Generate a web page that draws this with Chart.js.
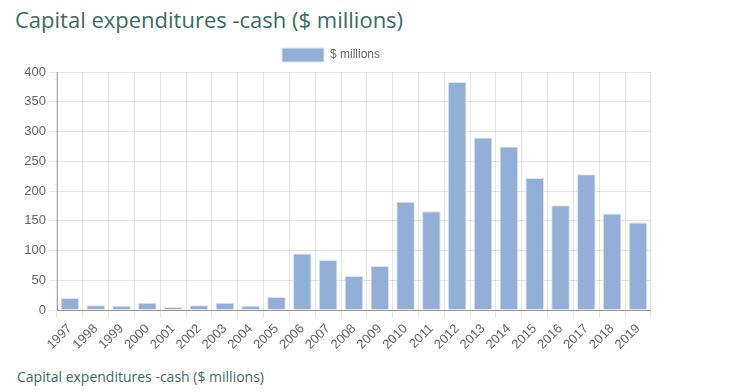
<!DOCTYPE html>
<html>
<head>
<meta charset="utf-8">
<script src="https://cdn.jsdelivr.net/npm/chart.js@4"></script>
<style>
  body { margin: 0; background: #fff; width: 738px; height: 392px; overflow: hidden; font-family: "Open Sans", sans-serif; }
  h2 { position: absolute; left: 15px; top: 4px; margin: 0; font-weight: 400; font-size: 22px; color: #3b6b60; }
  .box { position: absolute; left: 10px; top: 38px; width: 642px; height: 312px; }
  p { position: absolute; left: 17px; top: 367px; margin: 0; font-size: 14px; color: #3b6b60; }
</style>
</head>
<body>
<h2>Capital expenditures -cash ($ millions)</h2>
<div class="box"><canvas id="c"></canvas></div>
<p>Capital expenditures -cash ($ millions)</p>
<script>
// данные с картинки
const years = ['1997','1998','1999','2000','2001','2002','2003','2004','2005','2006','2007','2008',
  '2009','2010','2011','2012','2013','2014','2015','2016','2017','2018','2019'];
const capex = [20, 8, 7, 12, 5, 8, 12, 7, 22, 95, 84, 57, 74, 182, 166, 383, 290, 275, 222, 176, 228, 162, 147];
const yTicks = [0, 50, 100, 150, 200, 250, 300, 350, 400];

Chart.defaults.font.family = '"Liberation Sans", Arial, sans-serif';
Chart.defaults.font.size = 12;
Chart.defaults.color = '#666';

new Chart(document.getElementById('c'), {
  type: 'bar',
  data: {
    labels: years,
    datasets: [{
      label: '$ millions',
      data: capex,
      backgroundColor: '#93afd8',
      borderColor: '#dbe5f3',
      borderWidth: 1
    }]
  },
  options: {
    responsive: true,
    maintainAspectRatio: false,
    animation: false,
    plugins: {
      legend: {
        labels: { boxWidth: 42, boxHeight: 14, padding: 10 }
      },
      tooltip: { enabled: false }
    },
    scales: {
      x: {
        grid: { color: 'rgba(0,0,0,0.1)' },
        border: { color: 'rgba(0,0,0,0.35)' },
        ticks: { maxRotation: 45, minRotation: 45, autoSkip: false, font: { size: 13 } },
        afterFit: (axis) => { axis.height = 40; }
      },
      y: {
        min: 0,
        max: 400,
        grid: { color: 'rgba(0,0,0,0.1)' },
        border: { color: 'rgba(0,0,0,0.35)' },
        ticks: { font: { size: 13 } },
        afterBuildTicks: (axis) => { axis.ticks = yTicks.map(v => ({ value: v })); },
        afterFit: (axis) => { axis.width = 47; }
      }
    }
  }
});
</script>
</body>
</html>
